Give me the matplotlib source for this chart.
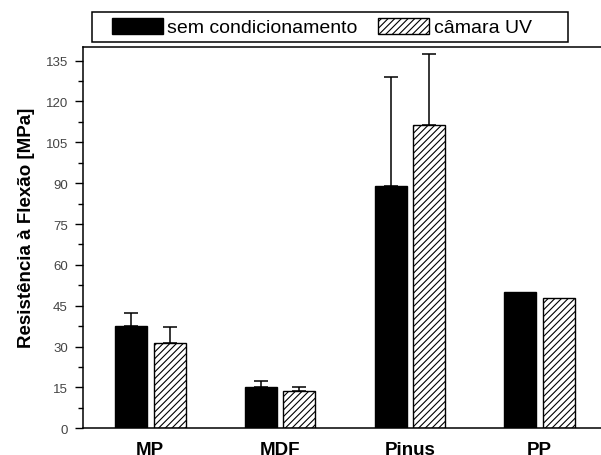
import numpy as np
import matplotlib
matplotlib.use("Agg")
import matplotlib.pyplot as plt
from matplotlib.ticker import MultipleLocator
from matplotlib.patches import Patch, Rectangle

plt.rcParams['font.family'] = ['Liberation Sans', 'DejaVu Sans']
plt.rcParams['hatch.linewidth'] = 0.8

categories = ["MP", "MDF", "Pinus", "PP"]
sem_cond = [37.7, 15.3, 89.1, 49.9]
sem_cond_err = [4.5, 2.2, 39.8, 0.0]
camara_uv = [31.2, 13.6, 111.4, 47.7]
camara_uv_err = [5.9, 1.7, 25.9, 0.0]

x = np.arange(len(categories))
w = 0.2465
off = 0.149

fig = plt.figure(figsize=(6.01, 4.56), dpi=100)
ax = fig.add_axes([83/601, 1 - 429.3/456, (606 - 83)/601, (429.3 - 48)/456])

ax.bar(x - off, sem_cond, w, color="black", edgecolor="black", linewidth=1)
ax.bar(x + off, camara_uv, w, color="white", edgecolor="black", linewidth=1,
       hatch="/////")

# upper error bars only, skipped where no deviation was reported
err_kw = dict(fmt="none", ecolor="black", elinewidth=1.1, capsize=5, capthick=1.1)
for xs, vals, errs in ((x - off, sem_cond, sem_cond_err),
                       (x + off, camara_uv, camara_uv_err)):
    keep = np.array(errs) > 0
    e = np.array(errs)[keep]
    ax.errorbar(xs[keep], np.array(vals)[keep], yerr=[np.zeros_like(e), e], **err_kw)

ax.set_ylim(0, 140)
ax.set_xlim(-0.518, 3 + (606 - 539.7)/129.8)
ax.yaxis.set_major_locator(MultipleLocator(15))
ax.yaxis.set_minor_locator(MultipleLocator(7.5))
ax.tick_params(axis="y", which="major", direction="out", length=6, width=1,
               labelsize=9.5, labelcolor="#444444", pad=5)
ax.tick_params(axis="y", which="minor", direction="out", length=3.5, width=1)
ax.set_xticks(x)
ax.set_xticklabels(categories, fontsize=13.5, fontweight="bold")
ax.tick_params(axis="x", length=0, pad=9.5)
ax.spines["right"].set_visible(False)
for s in ("left", "bottom", "top"):
    ax.spines[s].set_linewidth(1.1)

ax.set_ylabel("Resistência à Flexão [MPa]", fontsize=13.5, fontweight="bold")
ax.yaxis.set_label_coords(-0.092, 0.528)

handles = [Patch(facecolor="black", edgecolor="black"),
           Patch(facecolor="white", edgecolor="black", hatch="/////")]
leg = fig.legend(handles, ["sem condicionamento", "câmara UV"], ncol=2,
                 loc="center left", bbox_to_anchor=(112/601, 1 - 28/456),
                 fontsize=14, frameon=False,
                 handlelength=2.6, handleheight=0.9, handletextpad=0.25,
                 columnspacing=1.05, borderpad=0, borderaxespad=0)
# the legend frame is wider than its entries, so draw it on its own
fig.add_artist(Rectangle((92/601, 1 - 43/456), (568 - 92)/601, 30/456,
                         transform=fig.transFigure, fill=False,
                         edgecolor="black", linewidth=1.1))

fig.savefig("out.png", dpi=100)
